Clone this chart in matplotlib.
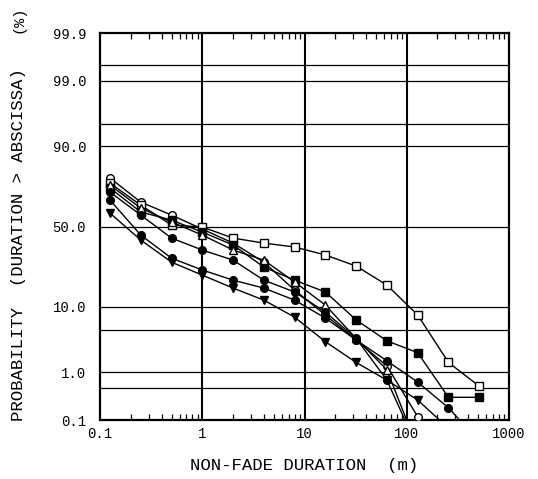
import numpy as np
import matplotlib
matplotlib.use("Agg")
import matplotlib.pyplot as plt
from matplotlib.ticker import FixedLocator, NullFormatter, LogLocator
from statistics import NormalDist

# non-fade duration (minutes)
dur = [0.125, 0.25, 0.5, 1, 2, 4, 8, 16, 32, 64, 128, 256, 512]

# probability (duration > abscissa) in %, one list per curve
p_open_circle = [78.1, 65.2, 57.3, 48.4, 39.6, 28.5, 15.5, 7.9, 3.5, 1.3, 0.12]
p_open_square = [75.6, 63.4, 51.0, 49.7, 42.7, 39.6, 37.2, 32.5, 26.4, 17.5, 7.9, 1.5, 0.54]
p_fill_square = [73.1, 59.2, 54.1, 46.5, 38.4, 25.9, 19.6, 14.8, 6.8, 3.4, 2.2, 0.32, 0.32]
p_open_tri = [74.6, 61.6, 52.9, 44.6, 35.4, 29.6, 18.8, 10.5, 3.7, 1.1, 0.02]
p_fill_circle1 = [70.9, 57.3, 42.7, 35.4, 29.6, 19.6, 14.8, 8.6, 3.7, 0.71, 0.02]
p_fill_circle2 = [66.4, 44.6, 30.7, 24.4, 19.6, 16.3, 12.0, 7.2, 3.5, 1.6, 0.65, 0.19, 0.03]
p_fill_tri = [58.5, 41.5, 28.5, 21.9, 16.3, 12.0, 7.4, 3.3, 1.5, 0.71, 0.28, 0.064]

y_ticks = [0.1, 1.0, 10.0, 50.0, 90.0, 99.0, 99.9]
y_grid = [0.5, 1.0, 5.0, 10.0, 50.0, 90.0, 95.0, 99.0, 99.5]
x_ticks = [0.1, 1, 10, 100, 1000]

nd = NormalDist()
_fwd = np.vectorize(lambda v: nd.inv_cdf(v / 100.0), otypes=[float])
_inv = np.vectorize(lambda z: nd.cdf(z) * 100.0, otypes=[float])


def prob_fwd(p):
    p = np.clip(np.asarray(p, dtype=float), 1e-7, 100 - 1e-7)
    return _fwd(p)


def prob_inv(z):
    return _inv(np.asarray(z, dtype=float))


mono = ['Liberation Mono', 'DejaVu Sans Mono']

fig = plt.figure(figsize=(5.38, 4.79), dpi=100)
ax = fig.add_axes([0.186, 0.123, 0.760, 0.808])
ax.set_xscale('log')
ax.set_yscale('function', functions=(prob_fwd, prob_inv))
ax.set_xlim(0.1, 1000)
ax.set_ylim(0.1, 99.9)

for g in y_grid:
    ax.axhline(g, color='k', lw=0.9, zorder=1)
for g in x_ticks[1:-1]:
    ax.axvline(g, color='k', lw=1.5, zorder=1)

curves = [
    (p_open_circle, 'o', 'white'),
    (p_open_square, 's', 'white'),
    (p_fill_square, 's', 'black'),
    (p_open_tri, '^', 'white'),
    (p_fill_circle1, 'o', 'black'),
    (p_fill_circle2, 'o', 'black'),
    (p_fill_tri, 'v', 'black'),
]
for vals, mk, fc in curves:
    ax.plot(dur[:len(vals)], vals, color='k', lw=1.0, marker=mk, ms=5.5,
            mfc=fc, mec='k', mew=1.0, zorder=3)

ax.yaxis.set_major_locator(FixedLocator(y_ticks))
ax.yaxis.set_minor_locator(FixedLocator([]))
ax.set_yticklabels(['%.1f' % v for v in y_ticks], family=mono, fontsize=10)
ax.tick_params(axis='y', length=0, pad=10)

ax.xaxis.set_major_locator(FixedLocator(x_ticks))
ax.set_xticklabels(['0.1', '1', '10', '100', '1000'], family=mono, fontsize=10)
ax.xaxis.set_minor_locator(LogLocator(base=10, subs=np.arange(2, 10)))
ax.xaxis.set_minor_formatter(NullFormatter())
ax.tick_params(axis='x', which='major', length=0, pad=5)
ax.tick_params(axis='x', which='minor', direction='in', length=4, width=0.9,
               top=True, bottom=True)

for s in ax.spines.values():
    s.set_linewidth(1.6)

ax.set_xlabel('NON-FADE DURATION  (m)', family=mono, fontsize=12.5, labelpad=12)
fig.text(0.035, 0.49, 'PROBABILITY  (DURATION > ABSCISSA)', rotation=90,
         ha='center', va='center', family=mono, fontsize=12.5)
fig.text(0.035, 0.96, '(%)', rotation=90, ha='center', va='center',
         family=mono, fontsize=11)

fig.savefig('out.png', dpi=100)
